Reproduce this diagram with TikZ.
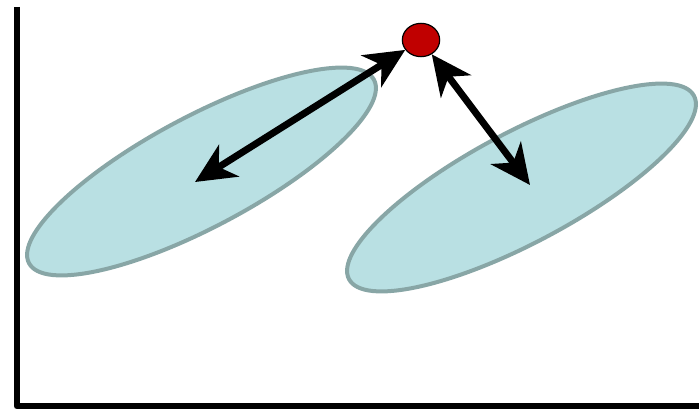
\documentclass[tikz,border=0pt]{standalone}
\usepackage{xcolor}
\usepackage{tikz}
\usetikzlibrary{arrows.meta,shapes.geometric,positioning,calc}
\definecolor{blobfill}{RGB}{185,224,227}
\definecolor{blobedge}{RGB}{136,166,166}
\definecolor{dotred}{RGB}{192,0,0}

\begin{document}
\begin{tikzpicture}[x=0.75pt, y=-0.75pt, line join=round,
  blob/.style={ellipse, fill=blobfill, draw=blobedge, line width=3pt,
    minimum width=293pt, minimum height=83pt, inner sep=0pt, rotate=28},
  axis/.style={line width=5.2pt},
  dist/.style={line width=5.2pt, {Stealth[length=30pt, width=28pt, inset=9pt]}-{Stealth[length=30pt, width=28pt, inset=9pt]}}]
\useasboundingbox (0,0) rectangle (699,410);
% axes
\coordinate (top) at (17,7);
\coordinate (corner) at (17,406);
\coordinate (right) at (699,406);
\draw[axis] (top) -- (corner) -- (right);
% the two clusters
\node[blob] (clusterA) at (201.5,171.5) {};
\node[blob] (clusterB) at (521.5,187.5) {};
% the point
\node[ellipse, fill=dotred, draw=black, line width=0.9pt, minimum width=28pt,
  minimum height=25pt, inner sep=0pt] (pt) at (421,40) {};
\coordinate (inA) at (195,182);
\coordinate (inB) at (530,185);
\draw[dist] (inA) -- (pt);
\draw[dist] (inB) -- (pt);
\end{tikzpicture}
\end{document}
